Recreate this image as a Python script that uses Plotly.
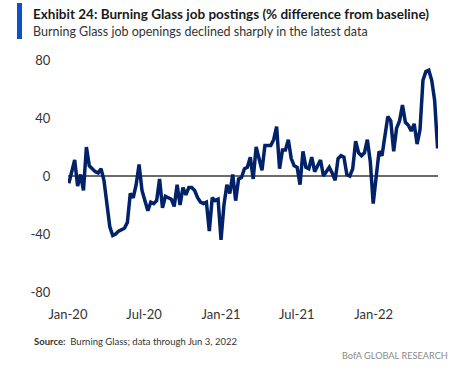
import pandas as pd
import plotly.graph_objects as go

# ---- data (weekly, % difference from baseline) ----
start_date = "2020-01-03"
n_weeks = 127
values = [
    -5, 3, 11, -7, 1, -10, 20, 7, 5, 3,
    2, 5, -3, -20, -35, -41, -40, -38, -37, -36,
    -32, -12, -15, -6, 8, -10, -17, -24, -18, -19,
    -17, -2, -22, -14, -15, -16, -21, -6, -20, -8,
    -13, -8, -8, -10, -15, -18, -19, -18, -38, -15,
    -17, -16, -44, -20, -6, -12, 1, -17, -2, -1,
    5, 6, 13, -2, 20, 11, 4, 21, 21, 21,
    25, 34, 5, 18, 18, 25, 12, 7, 6, -6,
    17, 6, 5, 13, 3, 7, 11, 0, 3, 6,
    2, -3, 12, 14, 13, 1, 0, 5, 24, 16,
    14, 16, 25, 10, -19, 0, 17, 14, 29, 41,
    38, 17, 33, 38, 49, 37, 35, 31, 36, 22,
    32, 66, 72, 73, 66, 52, 19,
]
dates = pd.date_range(start_date, periods=n_weeks, freq="7D")

y_ticks = [-80, -40, 0, 40, 80]
y_tick_labels = ["-80", "-40", "0", "40", "80"]
title_text = "Exhibit 24: Burning Glass job postings (% difference from baseline)"
subtitle_text = "Burning Glass job openings declined sharply in the latest data"
source_text = "<b>Source:</b>  Burning Glass; data through Jun 3, 2022"
brand_text = "BofA GLOBAL RESEARCH"

# ---- layout geometry ----
W, H = 469, 377
L, R, T, B = 68, 31, 60, 85
pw, ph = W - L - R, H - T - B

def px(x):
    return (x - L) / pw

def py(y):
    return (H - B - y) / ph

FONT = "Lato, sans-serif"

fig = go.Figure()
fig.add_trace(go.Scatter(
    x=dates, y=values, mode="lines",
    line=dict(color="#012169", width=3.5),
    hoverinfo="skip", showlegend=False,
))

fig.update_layout(
    width=W, height=H,
    margin=dict(l=L, r=R, t=T, b=B, pad=0),
    paper_bgcolor="white", plot_bgcolor="white",
    font=dict(family=FONT, color="#333333", size=13),
    xaxis=dict(
        range=["2020-01-01", "2022-06-04"],
        tickmode="linear", tick0="2020-01-01", dtick="M6",
        tickformat="%b-%y",
        showgrid=False, zeroline=False, showline=False,
        ticks="outside", ticklen=10, tickcolor="rgba(0,0,0,0)",
        tickfont=dict(size=13, color="#333333"),
    ),
    yaxis=dict(
        range=[-80, 80], tickvals=y_ticks, ticktext=y_tick_labels,
        showgrid=False, showline=False,
        zeroline=True, zerolinecolor="#6b6b6b", zerolinewidth=1.5,
        ticks="outside", ticklen=14, tickcolor="rgba(0,0,0,0)",
        tickfont=dict(size=13, color="#333333"),
    ),
    shapes=[dict(
        type="rect", xref="paper", yref="paper",
        x0=px(17), x1=px(22), y0=py(39), y1=py(3),
        fillcolor="#0a52c6", line=dict(width=0),
    )],
    annotations=[
        dict(text="<b>" + title_text + "</b>", xref="paper", yref="paper",
             x=px(31), y=py(14), xanchor="left", yanchor="middle",
             showarrow=False, font=dict(size=13.5, color="#1a1a1a", family=FONT)),
        dict(text=subtitle_text, xref="paper", yref="paper",
             x=px(31), y=py(31), xanchor="left", yanchor="middle",
             showarrow=False, font=dict(size=12.5, color="#333333", family=FONT)),
        dict(text=source_text, xref="paper", yref="paper",
             x=px(32), y=py(341), xanchor="left", yanchor="middle",
             showarrow=False, font=dict(size=9.5, color="#333333", family=FONT)),
        dict(text=brand_text, xref="paper", yref="paper",
             x=px(450), y=py(355), xanchor="right", yanchor="middle",
             showarrow=False, font=dict(size=9.2, color="#8a8a8a", family=FONT)),
    ],
)

fig.write_html("out.html", config={"displayModeBar": False},
               post_script="document.body.style.margin='0';")
